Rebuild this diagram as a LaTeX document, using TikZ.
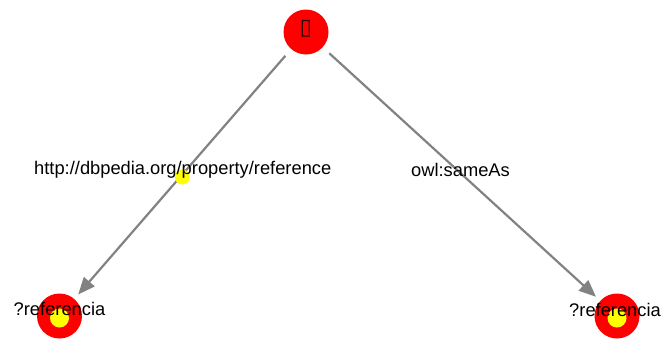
\documentclass[tikz,border=0pt]{standalone}
\usepackage{fontspec}
\setmainfont{Liberation Sans}
\newfontfamily\symfont{DejaVu Sans}
\usetikzlibrary{arrows.meta}
\definecolor{nodered}{RGB}{255,0,0}
\definecolor{dotyellow}{RGB}{255,255,0}
\definecolor{linkgray}{RGB}{130,130,130}
\tikzset{
  resource/.style={circle, fill=nodered, draw=none, minimum size=45pt, inner sep=0pt, outer sep=0pt},
  varnode/.style={resource, path picture={\fill[dotyellow] (path picture bounding box.center) ++(0,-2pt) circle (9.5pt);}},
  link/.style={draw=linkgray, line width=2.2pt, shorten <=9pt, shorten >=6pt,
    -{Triangle[length=17pt,width=14pt]}},
  lbl/.style={font=\fontsize{18.3}{22}\selectfont, text=black, inner sep=0pt},
  middot/.style={circle, fill=dotyellow, minimum size=15pt, inner sep=0pt}
}
\begin{document}
\begin{tikzpicture}[x=1pt,y=-1pt]
  \useasboundingbox (0,0) rectangle (663,338);
  % subject and the two object variables
  \node[resource] (s) at (306,32) {};
  \node[varnode] (ref) at (59.5,316) {};
  \node[varnode] (same) at (617,316) {};
  % predicates
  \draw[link] (s) -- (ref) coordinate[pos=0.5] (m1);
  \draw[link] (s) -- (same) coordinate[pos=0.5] (m2);
  \node[middot] (d1) at ([xshift=-0.5pt,yshift=-3pt]m1) {};
  \node[lbl] (l1) at ([yshift=4.5pt]m1) {http://dbpedia.org/property/reference};
  \node[lbl] (l2) at ([xshift=-1pt,yshift=4pt]m2) {owl:sameAs};
  % node texts
  \node[font=\symfont\fontsize{22}{24}\selectfont, text=black!85!red, inner sep=0pt] (st) at ([yshift=3pt]s) {▯};
  \node[lbl] (rt) at ([yshift=7pt]ref) {?referencia};
  \node[lbl] (qt) at ([xshift=-2pt,yshift=6pt]same) {?referencia};
\end{tikzpicture}
\end{document}
